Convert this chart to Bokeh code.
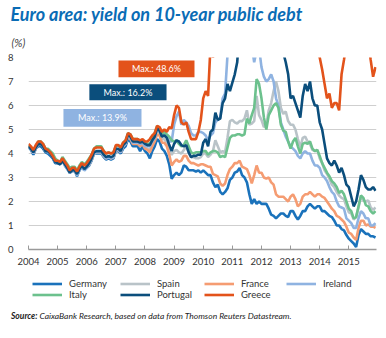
from bokeh.plotting import figure
from bokeh.layouts import column
from bokeh.models import (Label, BoxAnnotation, Legend, LegendItem, FixedTicker,
                          Range1d, Title, Div)
from bokeh.embed import file_html
from bokeh.resources import INLINE

years = list(range(2004, 2016))
tick_years = list(range(2004, 2016))

germany = [4.25,4.15,3.95,4.2,4.3,4.3,4.2,4.05,4.0,3.9,3.8,3.6,
           3.6,3.6,3.7,3.5,3.35,3.2,3.3,3.3,3.05,3.3,3.45,3.3,
           3.4,3.5,3.7,4.0,4.0,4.0,4.0,3.85,3.75,3.8,3.75,3.8,
           4.1,4.1,4.0,4.2,4.3,4.6,4.5,4.3,4.3,4.3,4.1,4.3,
           4.1,4.0,3.8,4.1,4.3,4.6,4.5,4.2,4.1,3.9,3.55,2.95,
           3.1,3.2,3.1,3.2,3.5,3.45,3.3,3.3,3.3,3.25,3.3,3.2,
           3.3,3.2,3.1,3.1,2.8,2.6,2.7,2.4,2.3,2.4,2.55,2.9,
           3.0,3.2,3.25,3.4,3.1,3.0,2.8,2.3,1.9,2.1,1.9,2.0,
           1.9,1.9,1.9,1.7,1.45,1.4,1.3,1.4,1.5,1.5,1.4,1.35,
           1.6,1.6,1.4,1.25,1.4,1.6,1.6,1.8,1.9,1.8,1.7,1.8,
           1.8,1.6,1.6,1.5,1.4,1.35,1.2,1.0,1.0,0.85,0.8,0.6,
           0.45,0.35,0.25,0.1,0.6,0.85,0.75,0.65,0.65,0.55,0.55,0.5]

spain = [4.3,4.2,4.0,4.2,4.4,4.4,4.3,4.1,4.1,4.0,3.9,3.65,
         3.6,3.55,3.7,3.5,3.4,3.2,3.25,3.25,3.1,3.3,3.45,3.35,
         3.4,3.55,3.75,4.0,4.05,4.05,4.05,3.9,3.8,3.85,3.8,3.85,
         4.15,4.15,4.05,4.3,4.45,4.75,4.65,4.5,4.45,4.45,4.35,4.45,
         4.25,4.2,4.15,4.4,4.6,4.95,4.85,4.6,4.6,4.45,4.1,3.95,
         4.1,4.15,4.05,4.0,4.15,4.3,4.05,3.85,3.85,3.8,3.8,3.85,
         4.0,4.0,3.85,3.95,4.1,4.55,4.3,4.05,4.1,4.05,4.65,5.35,
         5.4,5.3,5.25,5.35,5.35,5.45,5.8,5.2,5.25,5.35,6.4,5.6,
         5.4,5.1,5.2,5.8,6.1,6.6,7.0,6.6,5.9,5.65,5.75,5.35,
         5.2,5.2,5.0,4.6,4.25,4.65,4.7,4.5,4.4,4.15,4.1,4.15,
         3.8,3.6,3.3,3.15,2.95,2.7,2.6,2.4,2.25,2.15,2.1,1.8,
         1.55,1.5,1.25,1.35,1.75,2.2,2.05,2.0,2.05,1.75,1.65,1.75]

france = [4.3,4.2,4.0,4.2,4.4,4.4,4.3,4.1,4.1,4.0,3.9,3.7,
          3.6,3.6,3.75,3.55,3.4,3.25,3.3,3.3,3.15,3.35,3.5,3.35,
          3.45,3.55,3.75,4.0,4.05,4.05,4.05,3.9,3.8,3.85,3.8,3.85,
          4.15,4.15,4.05,4.3,4.4,4.7,4.6,4.4,4.4,4.4,4.3,4.4,
          4.2,4.15,4.05,4.3,4.5,4.8,4.75,4.45,4.45,4.3,3.95,3.5,
          3.65,3.75,3.65,3.7,3.9,3.9,3.7,3.6,3.6,3.55,3.5,3.55,
          3.55,3.5,3.45,3.45,3.15,3.1,3.05,2.75,2.65,2.75,3.1,3.35,
          3.45,3.6,3.6,3.7,3.45,3.4,3.35,3.1,2.75,3.1,3.5,3.2,
          3.2,3.0,2.95,3.0,2.8,2.7,2.3,2.2,2.2,2.2,2.1,2.0,
          2.2,2.3,2.1,1.8,1.9,2.2,2.3,2.3,2.4,2.3,2.2,2.3,
          2.3,2.2,2.15,2.0,1.85,1.7,1.6,1.4,1.35,1.25,1.15,0.95,
          0.7,0.65,0.5,0.4,0.9,1.2,1.2,1.0,1.05,0.95,0.95,0.9]

ireland = [4.3,4.2,4.0,4.2,4.4,4.4,4.3,4.1,4.05,4.0,3.85,3.65,
           3.6,3.55,3.7,3.5,3.35,3.2,3.25,3.3,3.1,3.3,3.45,3.3,
           3.4,3.55,3.75,4.0,4.05,4.05,4.05,3.9,3.8,3.85,3.8,3.85,
           4.15,4.15,4.05,4.3,4.4,4.75,4.65,4.45,4.45,4.45,4.4,4.45,
           4.3,4.3,4.3,4.5,4.65,5.0,4.95,4.7,4.8,4.7,4.5,4.5,
           5.2,5.55,5.75,5.2,5.4,5.3,5.15,4.85,4.75,4.75,4.9,4.9,
           4.85,4.75,4.55,4.75,4.85,5.3,5.4,5.5,6.3,6.5,8.1,8.4,
           8.6,9.1,9.5,9.9,10.5,11.4,12.5,10.1,8.5,7.8,8.3,8.4,
           7.6,7.2,7.0,7.1,7.3,7.0,6.3,6.0,5.3,5.0,4.7,4.5,
           4.3,4.2,4.1,3.9,3.8,4.0,4.1,4.0,4.0,3.7,3.5,3.5,
           3.4,3.1,3.0,2.85,2.6,2.4,2.3,2.0,1.8,1.75,1.7,1.3,
           1.2,1.1,0.9,0.9,1.3,1.6,1.5,1.3,1.3,1.0,1.0,1.1]

italy = [4.35,4.25,4.1,4.3,4.5,4.5,4.4,4.2,4.2,4.1,4.0,3.8,
         3.7,3.65,3.85,3.7,3.55,3.4,3.45,3.45,3.3,3.5,3.65,3.55,
         3.65,3.8,3.95,4.2,4.3,4.3,4.3,4.1,4.0,4.05,4.0,4.05,
         4.3,4.35,4.25,4.45,4.55,4.85,4.8,4.6,4.6,4.6,4.5,4.55,
         4.45,4.4,4.4,4.6,4.85,5.15,5.05,4.8,4.9,4.8,4.7,4.55,
         4.5,4.55,4.4,4.3,4.35,4.55,4.3,4.05,4.0,4.05,4.05,4.05,
         4.1,4.1,3.95,4.05,4.1,4.1,4.05,3.85,3.9,3.85,4.25,4.65,
         4.75,4.75,4.8,4.8,4.75,4.8,5.45,5.25,5.6,5.9,7.1,6.9,
         6.3,5.5,5.0,5.6,5.8,6.0,6.1,5.9,5.2,4.95,4.9,4.5,
         4.2,4.5,4.65,4.3,4.0,4.4,4.45,4.4,4.5,4.2,4.1,4.15,
         3.9,3.6,3.4,3.2,3.05,2.85,2.75,2.6,2.35,2.45,2.3,2.0,
         1.7,1.6,1.3,1.35,1.8,2.25,2.15,1.85,1.8,1.6,1.5,1.6]

portugal = [4.3,4.2,4.05,4.25,4.4,4.4,4.3,4.1,4.1,4.0,3.85,3.65,
            3.6,3.55,3.7,3.55,3.4,3.2,3.3,3.3,3.15,3.35,3.5,3.35,
            3.45,3.6,3.8,4.05,4.1,4.1,4.1,3.95,3.85,3.9,3.85,3.9,
            4.2,4.2,4.1,4.35,4.45,4.8,4.7,4.5,4.5,4.5,4.45,4.5,
            4.4,4.35,4.35,4.55,4.7,5.05,4.95,4.7,4.75,4.65,4.35,4.1,
            4.4,4.55,4.5,4.35,4.3,4.35,4.05,3.85,3.9,3.9,3.95,3.95,
            4.45,4.6,4.3,4.9,5.0,5.7,5.4,5.45,6.1,6.3,6.9,6.6,
            6.95,7.3,7.8,9.2,9.6,10.9,12.2,10.9,11.2,11.9,12.0,13.1,
            14.0,12.8,12.8,11.7,11.5,10.5,10.2,9.3,8.5,8.2,7.8,7.3,
            6.3,6.4,6.1,5.8,5.5,6.4,6.9,6.6,7.0,6.3,6.0,6.0,
            5.3,5.0,4.4,3.8,3.6,3.5,3.7,3.5,3.2,3.4,3.1,2.7,
            2.6,2.2,1.8,2.0,2.5,3.1,2.9,2.6,2.5,2.5,2.6,2.45]

greece = [4.4,4.3,4.15,4.35,4.5,4.5,4.4,4.2,4.15,4.05,3.9,3.7,
          3.7,3.65,3.8,3.65,3.5,3.3,3.4,3.4,3.25,3.45,3.6,3.5,
          3.6,3.75,3.95,4.2,4.25,4.25,4.25,4.1,4.0,4.05,4.0,4.05,
          4.35,4.35,4.25,4.45,4.55,4.85,4.8,4.6,4.6,4.6,4.55,4.6,
          4.5,4.5,4.6,4.75,4.85,5.15,5.1,4.9,5.0,4.9,5.1,5.05,
          5.6,6.0,5.9,5.3,5.2,5.3,4.9,4.6,4.6,4.6,4.9,5.4,
          6.3,6.6,6.4,8.5,8.0,9.0,10.3,10.7,11.3,9.6,11.5,11.6,
          11.7,11.4,12.4,13.9,15.6,16.7,16.0,15.5,18.0,22.0,26.0,33.0,
          34.0,33.0,19.0,21.0,26.0,27.0,26.0,24.0,20.0,17.5,16.5,13.0,
          11.0,10.8,11.5,11.0,9.0,10.3,10.3,10.2,10.0,8.5,8.5,8.3,
          8.0,7.5,6.9,6.3,6.5,5.9,6.1,6.1,5.8,7.3,7.9,8.6,
          9.7,9.8,11.0,12.5,11.0,11.5,11.5,9.8,8.7,7.9,7.2,7.6]

names = ["Germany", "Spain", "France", "Ireland", "Italy", "Portugal", "Greece"]
colors = ["#1a72bb", "#b9c3c8", "#f59c72", "#8fb3e1", "#6cc18d", "#0b4e7c", "#e3531b"]
series = [germany, spain, france, ireland, italy, portugal, greece]

max_labels = ["Max.: 48.6%", "Max.: 16.2%", "Max.: 13.9%"]
max_colors = ["#e3531b", "#0b4e7c", "#8fb3e1"]
box_left = [2007.09, 2006.09, 2005.20]
box_right = [2009.70, 2008.74, 2007.88]
box_top = [7.88, 6.89, 5.85]
box_bottom = [7.18, 6.22, 5.11]

source_head = "Source:"
source_text = "CaixaBank Research, based on data from Thomson Reuters Datastream."

x = [y + m / 12 for y in years for m in range(12)]

FONT = "Lato"
LINE_W = 2.6

# ---------------- main chart ----------------
p = figure(width=386, height=270, output_backend="svg", toolbar_location=None,
           title=None,
           x_range=Range1d(2004, 2015.95), y_range=Range1d(0, 8),
           min_border_left=28, min_border_right=10, min_border_top=0,
           min_border_bottom=21, outline_line_color=None,
           background_fill_color="white", border_fill_color="white")

for name, col, s in zip(names, colors, series):
    p.line(x, s, line_color=col, line_width=LINE_W)

p.xaxis.ticker = FixedTicker(ticks=tick_years)
p.xaxis.major_label_overrides = {t: str(t) for t in tick_years}
p.xaxis.axis_line_color = "#9a9a9a"
p.xaxis.axis_line_width = 1.5
p.xaxis.major_tick_line_color = "#9a9a9a"
p.xaxis.major_tick_in = 4
p.xaxis.major_tick_out = 0
p.xaxis.minor_tick_line_color = None
p.xaxis.major_label_standoff = 8
p.xaxis.major_label_text_font = FONT
p.xaxis.major_label_text_font_size = "9.5px"
p.xaxis.major_label_text_color = "#333333"

p.yaxis.ticker = FixedTicker(ticks=list(range(0, 9)))
p.yaxis.axis_line_color = None
p.yaxis.major_tick_line_color = None
p.yaxis.minor_tick_line_color = None
p.yaxis.major_label_standoff = 9
p.yaxis.major_label_text_font = FONT
p.yaxis.major_label_text_font_size = "9.5px"
p.yaxis.major_label_text_color = "#333333"

p.xgrid.grid_line_color = None
p.ygrid.grid_line_color = "#cfcfcf"
p.ygrid.grid_line_width = 1
p.ygrid.ticker = FixedTicker(ticks=list(range(1, 9)))

for lab, col, l, r_, t, b in zip(max_labels, max_colors, box_left, box_right, box_top, box_bottom):
    p.add_layout(BoxAnnotation(left=l, right=r_, top=t, bottom=b, fill_color=col,
                               fill_alpha=1.0, line_color=None, level="overlay"))
    p.add_layout(Label(x=(l + r_) / 2, y=(t + b) / 2, text=lab, text_align="center",
                       text_baseline="middle", text_color="white", text_font=FONT,
                       text_font_size="9px", level="overlay"))

p.add_layout(Title(text="(%)", align="left", offset=-17, text_font=FONT,
                   text_font_style="italic", text_font_size="11px",
                   text_color="#444444", standoff=18), "above")
p.add_layout(Title(text="Euro area: yield on 10-year public debt", align="left",
                   offset=-18, text_font=FONT, text_font_style="bold italic",
                   text_font_size="18px", text_color="#0a6cb5", standoff=0), "above")

# ---------------- legend ----------------
q = figure(width=386, height=40, output_backend="svg", toolbar_location=None,
           title=None, x_range=Range1d(0, 1), y_range=Range1d(0, 1),
           min_border_left=28, min_border_right=10, min_border_top=0,
           min_border_bottom=0, outline_line_color=None,
           x_axis_type=None, y_axis_type=None,
           background_fill_color="white", border_fill_color="white")
q.xgrid.grid_line_color = None
q.ygrid.grid_line_color = None

# legend renderers: same series, outside this panel's visible range
dummy = [q.line(x, s, line_color=col, line_width=LINE_W) for col, s in zip(colors, series)]

col_x = [4, 92, 176, 258]
groups = [[0, 4], [1, 5], [2, 6], [3]]
for cx, g in zip(col_x, groups):
    items = [LegendItem(label=names[i], renderers=[dummy[i]]) for i in g]
    leg = Legend(items=items, location=(cx, 10 + (11 if len(g) == 1 else 0)),
                 orientation="vertical",
                 padding=0, margin=0, spacing=0, border_line_color=None,
                 background_fill_alpha=0, label_text_font=FONT,
                 label_text_font_size="9.5px", label_text_color="#333333",
                 glyph_width=30, glyph_height=11, label_height=11,
                 label_standoff=7, label_text_baseline="middle")
    q.add_layout(leg)

# ---------------- source line ----------------
src = Div(text="<b>" + source_head + "</b> " + source_text, width=386, height=28,
          styles={"font-family": "Lato", "font-style": "italic", "font-size": "8.5px",
                  "color": "#222222", "padding-left": "11px", "padding-top": "1px",
                  "line-height": "10px", "margin": "0", "background": "white"})

layout = column(p, q, src, spacing=0)
open("out.html", "w").write(file_html(layout, INLINE))
